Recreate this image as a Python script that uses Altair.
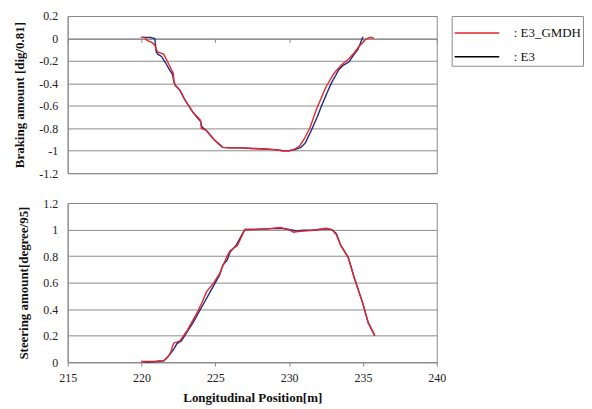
import altair as alt
import pandas as pd

# Braking amount (top panel)
brk_e3_x = [220.0, 220.3, 220.6, 220.9, 221.0, 221.1, 221.35, 221.6, 221.9, 222.1, 222.2, 222.3, 222.6, 222.95,
            223.5, 224.0, 224.1, 224.4, 224.9, 225.5, 226.0, 226.8, 227.5, 228.3, 229.0, 229.6, 230.0, 230.4,
            230.8, 231.1, 231.5, 231.9, 232.2, 232.55, 232.85, 233.15, 233.35, 233.65, 234.05, 234.35, 234.65, 235.0]
brk_e3_y = [0.01, 0.01, 0.01, 0.0, -0.12, -0.14, -0.16, -0.21, -0.28, -0.32, -0.39, -0.42, -0.46, -0.55,
            -0.66, -0.74, -0.79, -0.82, -0.90, -0.97, -0.975, -0.975, -0.98, -0.985, -0.99, -1.0, -1.0, -0.99,
            -0.97, -0.93, -0.82, -0.70, -0.60, -0.49, -0.40, -0.33, -0.28, -0.24, -0.21, -0.15, -0.10, 0.015]
brk_gm_x = [219.95, 220.2, 220.4, 220.7, 220.9, 221.0, 221.1, 221.3, 221.5, 221.7, 222.0, 222.15, 222.2, 222.3,
            222.6, 222.95, 223.5, 224.0, 224.05, 224.4, 224.9, 225.5, 226.0, 226.8, 227.5, 228.3, 229.0, 229.6,
            230.0, 230.3, 230.7, 231.0, 231.4, 231.85, 232.5, 233.05, 233.5, 234.05, 234.4, 234.75, 235.2, 235.5, 235.75]
brk_gm_y = [0.01, 0.01, -0.02, -0.035, -0.06, -0.1, -0.12, -0.13, -0.14, -0.19, -0.27, -0.31, -0.38, -0.42,
            -0.46, -0.55, -0.66, -0.73, -0.80, -0.82, -0.90, -0.97, -0.975, -0.975, -0.98, -0.985, -0.99, -1.0,
            -1.0, -0.99, -0.96, -0.90, -0.80, -0.63, -0.43, -0.31, -0.24, -0.18, -0.13, -0.07, -0.005, 0.01, 0.0]

# Steering amount (bottom panel)
str_e3_x = [220.0, 220.5, 221.0, 221.5, 221.7, 222.0, 222.2, 222.4, 222.7, 223.1, 223.5, 223.8, 224.1, 224.4,
            224.7, 225.0, 225.3, 225.5, 225.8, 226.0, 226.4, 227.0, 227.5, 228.5, 229.5, 230.0, 230.5, 231.0,
            231.5, 232.0, 232.5, 232.9, 233.2, 233.5, 234.0, 234.4, 235.0, 235.35, 235.8]
str_e3_y = [0.005, 0.0, 0.005, 0.01, 0.03, 0.07, 0.10, 0.14, 0.16, 0.23, 0.30, 0.36, 0.42, 0.48,
            0.54, 0.60, 0.66, 0.73, 0.77, 0.83, 0.88, 1.0, 1.0, 1.005, 1.01, 1.0, 0.99, 0.995,
            0.995, 1.0, 1.005, 1.0, 0.97, 0.88, 0.79, 0.64, 0.44, 0.30, 0.20]
str_gm_x = [220.0, 220.5, 221.0, 221.2, 221.5, 221.8, 222.0, 222.1, 222.2, 222.6, 223.1, 223.75, 224.1, 224.4,
            224.9, 225.3, 225.45, 225.8, 226.0, 226.5, 227.0, 227.5, 228.5, 229.4, 229.7, 230.0, 230.3, 230.6,
            231.2, 231.7, 232.0, 232.5, 232.9, 233.2, 233.5, 234.0, 234.4, 235.0, 235.35, 235.8]
str_gm_y = [0.005, 0.005, 0.005, 0.01, 0.01, 0.04, 0.08, 0.12, 0.145, 0.16, 0.24, 0.37, 0.45, 0.53,
            0.60, 0.67, 0.71, 0.80, 0.84, 0.88, 1.0, 1.0, 1.005, 1.015, 1.005, 1.0, 0.98, 0.985,
            0.99, 0.995, 1.0, 1.01, 1.0, 0.96, 0.88, 0.79, 0.64, 0.44, 0.30, 0.20]

series_names = ["E3_GMDH", "E3"]
x_ticks = [215, 220, 225, 230, 235, 240]
top_ticks = [-1.2, -1.0, -0.8, -0.6, -0.4, -0.2, 0.0, 0.2]
bot_ticks = [0.0, 0.2, 0.4, 0.6, 0.8, 1.0, 1.2]

RED = "#e3262c"
NAVY = "#1f2a80"
FONT = "Liberation Serif"
GRID = "#8a8a8a"

def frame(xs, ys, name):
    return pd.DataFrame({"x": xs, "y": ys, "series": name})

brk_e3 = frame(brk_e3_x, brk_e3_y, "E3")
brk_gm = frame(brk_gm_x, brk_gm_y, "E3_GMDH")
str_e3 = frame(str_e3_x, str_e3_y, "E3")
str_gm = frame(str_gm_x, str_gm_y, "E3_GMDH")
legend_rows = pd.DataFrame({"x": [None, None], "y": [None, None], "series": series_names})

label_expr = "(datum.value < -0.0001 ? '-' : '') + format(abs(datum.value), '~g')"

color_scale = alt.Scale(domain=series_names, range=[RED, "black"])
legend = alt.Legend(
    title=None, orient="none", legendX=386, legendY=0,
    symbolType="M-1.6,0L1.6,0", symbolSize=784, symbolStrokeWidth=1.5, symbolOffset=8.4,
    labelExpr="': ' + datum.label", labelFont=FONT, labelFontSize=13, labelColor="#111",
    strokeColor="#8a8a8a", padding=2, rowPadding=2, labelOffset=22,
    fillColor="white",
)

TOP_H = 158
x_top = alt.X("x:Q", scale=alt.Scale(domain=[215, 240], nice=False),
              axis=alt.Axis(title=None, labels=False, values=x_ticks, grid=False,
                            offset=-(TOP_H - TOP_H * 0.2 / 1.4), tickSize=4, tickColor=GRID,
                            domainColor=GRID))
y_top = alt.Y("y:Q", scale=alt.Scale(domain=[-1.2, 0.2], nice=False),
              axis=alt.Axis(title="Braking amount [dig/0.81]", values=top_ticks, labelExpr=label_expr,
                            tickSize=0, labelPadding=10, titlePadding=12))

top = alt.layer(
    alt.Chart(legend_rows).mark_line(strokeWidth=1.5).encode(
        x=x_top, y=y_top, color=alt.Color("series:N", scale=color_scale, legend=legend)),
    alt.Chart(brk_e3).mark_line(strokeWidth=1.4, color=NAVY).encode(x=x_top, y=y_top),
    alt.Chart(brk_gm).mark_line(strokeWidth=1.4, color=RED).encode(x=x_top, y=y_top),
).properties(width=371, height=TOP_H)

x_bot = alt.X("x:Q", scale=alt.Scale(domain=[215, 240], nice=False),
              axis=alt.Axis(title="Longitudinal Position[m]", values=x_ticks, grid=False, labelFlush=False,
                            tickSize=4, tickColor=GRID, labelPadding=6, titlePadding=9))
y_bot = alt.Y("y:Q", scale=alt.Scale(domain=[0, 1.2], nice=False),
              axis=alt.Axis(title="Steering amount[degree/95]", values=bot_ticks, labelExpr=label_expr,
                            tickSize=0, labelPadding=10, titlePadding=12))

bottom = alt.layer(
    alt.Chart(str_e3).mark_line(strokeWidth=1.4, color=NAVY).encode(x=x_bot, y=y_bot),
    alt.Chart(str_gm).mark_line(strokeWidth=1.4, color=RED).encode(x=x_bot, y=y_bot),
).properties(width=371, height=160)

chart = alt.vconcat(top, bottom, spacing=16).properties(
    padding={"left": 5, "top": 0, "right": 0, "bottom": 0}
).configure_view(stroke=GRID, strokeWidth=1).configure_axis(
    labelFont=FONT, labelFontSize=12, labelColor="#222",
    titleFont=FONT, titleFontSize=13, titleFontWeight="bold", titleColor="#111",
    gridColor=GRID, gridOpacity=1, gridWidth=1, domainColor=GRID,
)

chart.save("out.html", embed_options={"renderer": "svg", "actions": False})
